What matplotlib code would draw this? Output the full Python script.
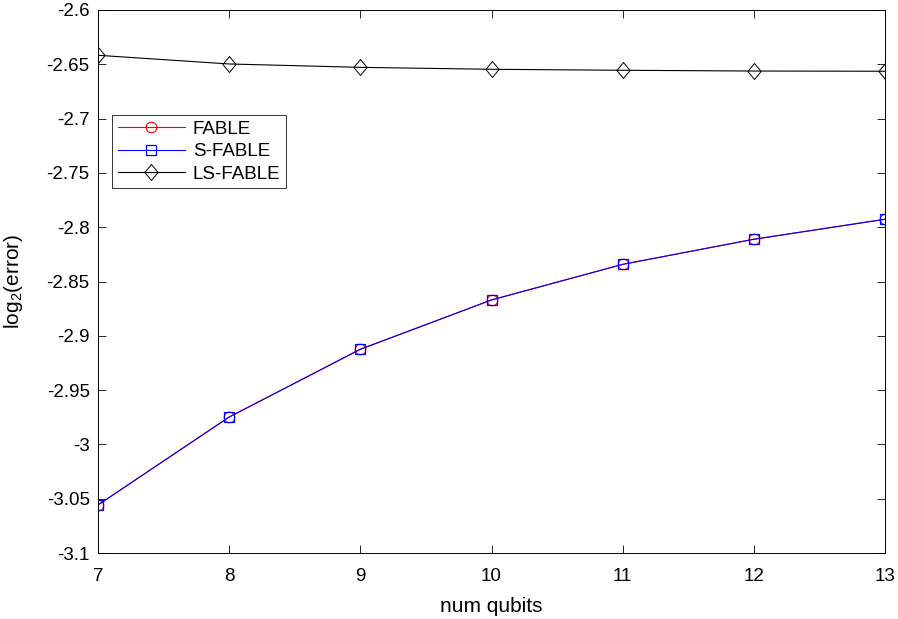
import matplotlib
matplotlib.use("Agg")
import matplotlib.pyplot as plt

plt.rcParams['font.family'] = ['Liberation Sans', 'DejaVu Sans']
plt.rcParams['mathtext.fontset'] = 'custom'
plt.rcParams['mathtext.rm'] = 'Liberation Sans'
plt.rcParams['mathtext.it'] = 'Liberation Sans'
plt.rcParams['mathtext.default'] = 'regular'

qubits = [7, 8, 9, 10, 11, 12, 13]
fable = [-3.0558, -2.9748, -2.9124, -2.8670, -2.8342, -2.8111, -2.7927]
s_fable = [-3.0558, -2.9748, -2.9124, -2.8670, -2.8342, -2.8111, -2.7927]
ls_fable = [-2.6417, -2.6497, -2.6528, -2.6546, -2.6555, -2.6562, -2.6564]

yticks = [-3.1, -3.05, -3.0, -2.95, -2.9, -2.85, -2.8, -2.75, -2.7, -2.65, -2.6]
ytick_labels = ['-3.1', '-3.05', '-3', '-2.95', '-2.9', '-2.85', '-2.8', '-2.75', '-2.7', '-2.65', '-2.6']

diamond = [(0, 1), (0.83, 0), (0, -1), (-0.83, 0), (0, 1)]

fig = plt.figure(figsize=(8.98, 6.19), dpi=100)
ax = fig.add_axes([98/898, 66/619, 787/898, 543/619])

ax.plot(qubits, fable, color='red', marker='o', markersize=7.6, markerfacecolor='none',
        linewidth=0.8, markeredgewidth=0.8, label='FABLE')
ax.plot(qubits, s_fable, color='blue', marker='s', markersize=6.9, markerfacecolor='none',
        linewidth=0.8, markeredgewidth=0.9, label='S-FABLE')
ax.plot(qubits, ls_fable, color='black', marker=diamond, markersize=11.5, markerfacecolor='none',
        linewidth=0.8, markeredgewidth=0.7, label='LS-FABLE')

ax.set_xlim(7, 13)
ax.set_ylim(-3.1, -2.6)
ax.set_xticks(qubits)
ax.set_xticklabels([str(q) for q in qubits])
ax.set_yticks(yticks)
ax.set_yticklabels(ytick_labels)
ax.tick_params(direction='in', top=True, right=True, labelsize=13.5, length=5.5, width=0.6)
ax.tick_params(axis='x', pad=11)
ax.tick_params(axis='y', pad=6)
for s in ax.spines.values():
    s.set_linewidth(0.7)

ax.set_xlabel('num qubits', fontsize=15)
ax.set_ylabel('log$_2$(error)', fontsize=15)
ax.xaxis.set_label_coords(0.5, (553 - 597) / 543)
ax.yaxis.set_label_coords((25 - 98) / 787, 0.5)

leg = ax.legend(loc='upper left', bbox_to_anchor=(14/787, 1 - 105/543), fontsize=13.5,
                frameon=True, fancybox=False, edgecolor='black', handlelength=3.6,
                borderpad=0.3, labelspacing=0.28, handletextpad=0.4, borderaxespad=0)
leg.get_frame().set_linewidth(0.7)

fig.savefig('out.png', dpi=100)
